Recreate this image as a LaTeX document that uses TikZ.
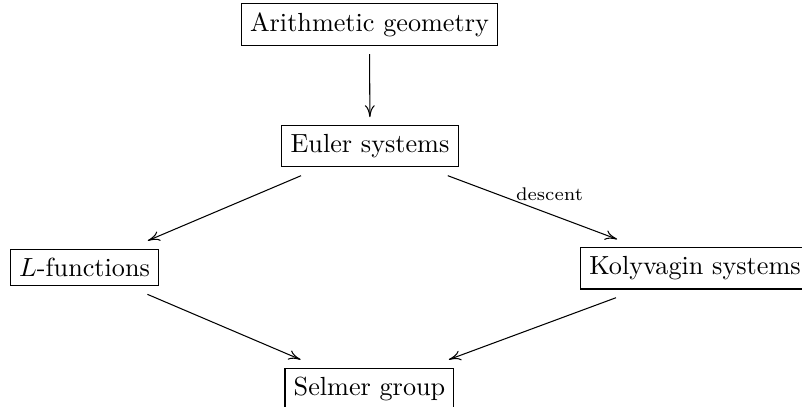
\documentclass[tikz,border=0pt]{standalone}
\usepackage{amsmath,amssymb}
\usepackage{tikz}
\usetikzlibrary{positioning}
\usetikzlibrary{arrows}
\usetikzlibrary{arrows.meta}
\pgfdeclarelayer{nodelayer}
\pgfdeclarelayer{edgelayer}
\pgfsetlayers{edgelayer,nodelayer,main}
\tikzstyle{none}=[inner sep=0pt]
\tikzstyle{topic}=[draw, thin, outer sep=3.33pt]
\tikzstyle{implies}=[-{Computer Modern Rightarrow[length=4.6pt, width=3.8pt]}, thin]
\tikzstyle{tag}=[font=\scriptsize, inner sep=0pt, anchor=south west]

\begin{document}
\begin{tikzpicture}
	\useasboundingbox (0, 0) rectangle (10.76, -5.46);
	\begin{pgfonlayer}{nodelayer}
		\node [style=topic] (0) at (4.957, -0.329) {Arithmetic geometry};
		\node [style=topic] (1) at (4.964, -1.965) {Euler systems};
		\node [style=topic] (2) at (1.134, -3.589) {$L$-functions};
		\node [style=topic] (3) at (9.324, -3.602) {Kolyvagin systems};
		\node [style=topic] (4) at (4.957, -5.219) {Selmer group};
	\end{pgfonlayer}
	\begin{pgfonlayer}{edgelayer}
		\draw [style=implies] (0) to (1);
		\draw [style=implies] (1) to (2);
		\draw [style=implies] (1) to node [style=tag, pos=0.4] {descent} (3);
		\draw [style=implies] (2) to (4);
		\draw [style=implies] (3) to (4);
	\end{pgfonlayer}
\end{tikzpicture}
\end{document}
